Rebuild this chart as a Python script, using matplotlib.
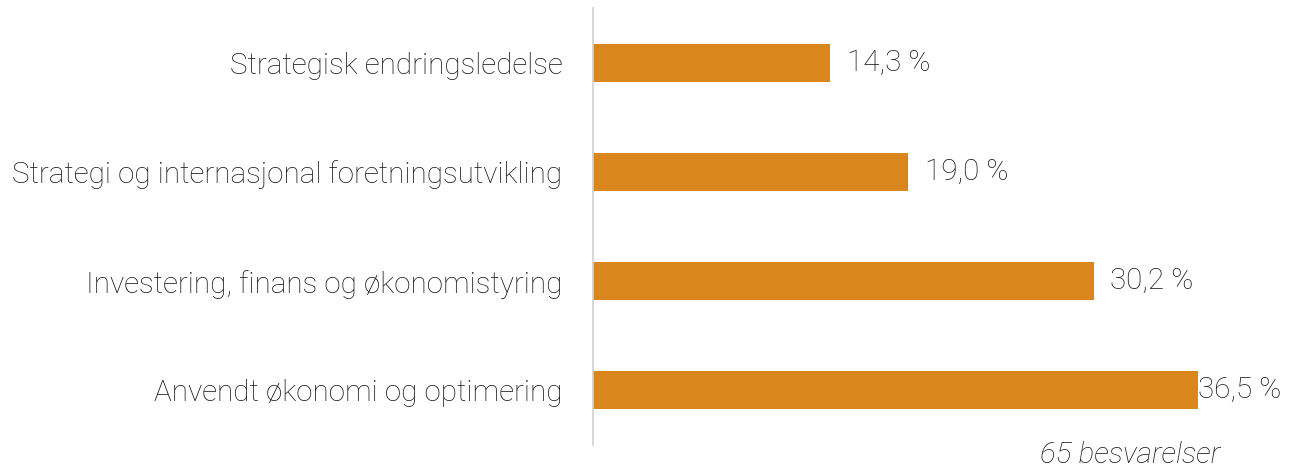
import matplotlib.pyplot as plt

categories = ['Strategisk endringsledelse',
              'Strategi og internasjonal foretningsutvikling',
              'Investering, finans og økonomistyring',
              'Anvendt økonomi og optimering']
values = [14.3, 19.0, 30.2, 36.5]
value_labels = ['14,3 %', '19,0 %', '30,2 %', '36,5 %']
note = '65 besvarelser'

plt.rcParams['font.family'] = ['Roboto', 'DejaVu Sans']
fs = 21.3

fig = plt.figure(figsize=(12.95, 4.68), dpi=100)
ax = fig.add_axes([593 / 1295, 23 / 468, 605 / 1295, 437 / 468])

ypos = list(range(len(categories)))[::-1]
ax.barh(ypos, values, height=0.35, color='#DA861E')

xmax = 36.5
ax.set_xlim(0, xmax)
ax.set_ylim(-0.5, 3.5)

pad = 1.0
for y, v, lab in zip(ypos, values, value_labels):
    x = v + pad if v + pad < xmax else v
    ax.text(x, y, lab, va='center', ha='left', fontsize=fs,
            fontweight='light', color='#1a1a1a')

ax.set_yticks(ypos)
ax.set_yticklabels(categories, fontsize=fs, fontweight='light', color='#1a1a1a')
ax.tick_params(axis='y', length=0, pad=22)
ax.set_xticks([])
for s in ['top', 'right', 'bottom']:
    ax.spines[s].set_visible(False)
ax.spines['left'].set_color('#d0d0d0')
ax.spines['left'].set_linewidth(1.2)

fig.text(1130 / 1295, 1 - 455 / 468, note, ha='center', va='center',
         fontsize=fs, style='italic', fontweight='light', color='#1a1a1a')

fig.savefig('out.png', dpi=100)
